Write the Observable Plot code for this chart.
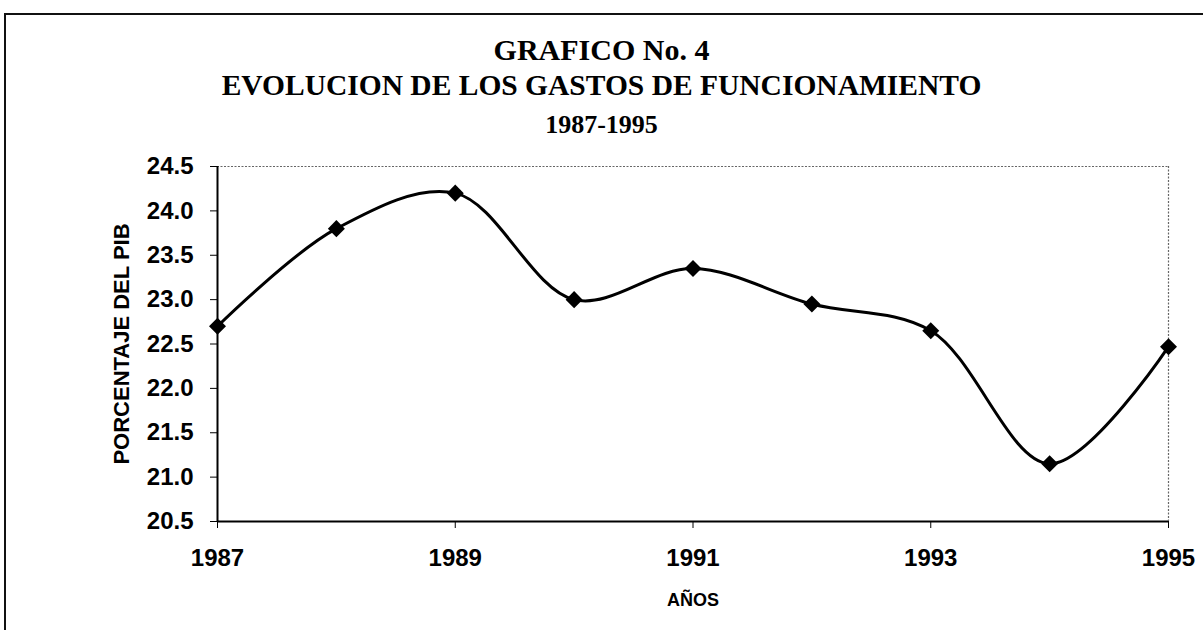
<!DOCTYPE html>
<html>
<head>
<meta charset="utf-8">
<script src="https://cdn.jsdelivr.net/npm/d3@7"></script>
<script src="https://cdn.jsdelivr.net/npm/@observablehq/plot@0.6"></script>
<style>
  html, body { margin: 0; padding: 0; background: #fff; }
  #wrap { position: relative; width: 1203px; height: 630px; overflow: hidden; background: #fff; }
  #frame { position: absolute; left: 4px; top: 13px; right: -10px; bottom: -10px; border-top: 2px solid #111; border-left: 2px solid #111; pointer-events: none; }
  #head { height: 140px; font-family: "Liberation Serif", "Times New Roman", serif; font-weight: bold; color: #000; }
  #head div { position: absolute; left: 0; width: 1203px; text-align: center; line-height: 1; white-space: nowrap; }
</style>
</head>
<body>
<div id="wrap">
  <div id="frame"></div>
  <div id="head">
    <div id="t1" style="top:35px;font-size:30px;">GRAFICO No. 4</div>
    <div id="t2" style="top:71px;font-size:29.5px;">EVOLUCION DE LOS GASTOS DE FUNCIONAMIENTO</div>
    <div id="t3" style="top:112px;font-size:26px;">1987-1995</div>
  </div>
  <div id="chart"></div>
</div>
<script>
const years = [1987, 1988, 1989, 1990, 1991, 1992, 1993, 1994, 1995];
const values = [22.7, 23.8, 24.2, 23.0, 23.35, 22.95, 22.65, 21.15, 22.47];
const xTicks = [1987, 1989, 1991, 1993, 1995];
const yTicks = [20.5, 21.0, 21.5, 22.0, 22.5, 23.0, 23.5, 24.0, 24.5];
const yLabel = "PORCENTAJE DEL PIB";
const xLabel = "AÑOS";

const data = years.map((y, i) => ({year: y, value: values[i]}));

const plot = Plot.plot({
  width: 1203,
  height: 490,
  marginTop: 26,
  marginBottom: 109,
  marginLeft: 217,
  marginRight: 35,
  style: {fontFamily: "'Liberation Sans', Arial, sans-serif", fontWeight: "bold", fontSize: "24px", color: "#000", background: "transparent"},
  x: {domain: [1987, 1995], ticks: xTicks, tickFormat: "d"},
  y: {domain: [20.5, 24.5], ticks: yTicks, tickFormat: ".1f"},
  marks: [
    Plot.ruleY([24.5], {stroke: "#666", strokeDasharray: "2,1.5", strokeWidth: 1.2}),
    Plot.ruleX([1995], {stroke: "#666", strokeDasharray: "2,1.5", strokeWidth: 1.2}),
    Plot.axisX({ticks: xTicks, tickFormat: "d", tickSize: 7, tickPadding: 20, label: null, fontSize: 24, stroke: "#000"}),
    Plot.axisY({ticks: yTicks, tickFormat: ".1f", tickSize: 7, tickPadding: 17, label: null, fontSize: 24, stroke: "#000"}),
    Plot.ruleY([20.5], {stroke: "#000", strokeWidth: 2}),
    Plot.ruleX([1987], {stroke: "#000", strokeWidth: 2}),
    Plot.line(data, {x: "year", y: "value", curve: "catmull-rom", stroke: "#000", strokeWidth: 3}),
    Plot.dot(data, {x: "year", y: "value", symbol: "square", rotate: 45, fill: "#000", r: 6.8}),
    Plot.text([yLabel], {text: d => d, frameAnchor: "left", textAnchor: "middle", dx: -96, rotate: -90, fontSize: 22, fontWeight: "bold"}),
    Plot.text([xLabel], {text: d => d, frameAnchor: "bottom", lineAnchor: "middle", dy: 79, fontSize: 18, fontWeight: "bold"})
  ]
});
plot.style.position = "absolute";
plot.style.left = "0px";
plot.style.top = "140px";
document.getElementById("chart").appendChild(plot);
</script>
</body>
</html>
